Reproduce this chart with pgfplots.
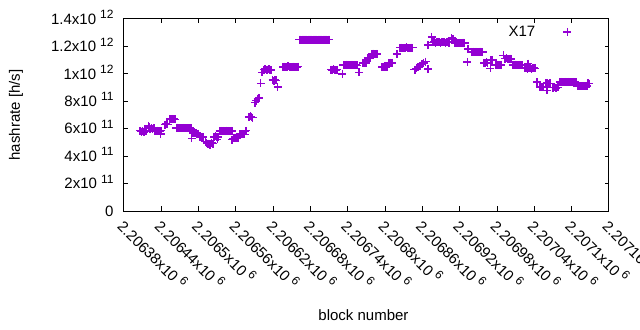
\documentclass[border=0pt]{standalone}
\usepackage{fontspec}
\setmainfont{Liberation Sans}
\usepackage{pgfplots}
\pgfplotsset{compat=1.18}
\definecolor{gpviolet}{RGB}{148,0,211}
\newcommand\ex[1]{\hspace{4bp}\smash{\raisebox{5.5bp}{\fontsize{12bp}{12bp}\selectfont #1}}}
\begin{document}
\begin{tikzpicture}
\useasboundingbox (0,0) rectangle (640bp,330bp);
\begin{axis}[
  at={(124bp,119bp)}, anchor=south west,
  scale only axis, width=485bp, height=192bp,
  xmin=2206380, xmax=2207160, ymin=0, ymax=1.4e12,
  scaled x ticks=false, scaled y ticks=false,
  font=\fontsize{15bp}{18bp}\selectfont,
  axis line style={line width=1bp},
  tick style={line width=1bp, black},
  major tick length=4.5bp, tick align=inside,
  xtick={2206380,2206440,2206500,2206560,2206620,2206680,2206740,2206800,2206860,2206920,2206980,2207040,2207100,2207160},
  xticklabels={2.20638x10\ex{6},2.20644x10\ex{6},2.2065x10\ex{6},2.20656x10\ex{6},2.20662x10\ex{6},2.20668x10\ex{6},2.20674x10\ex{6},2.2068x10\ex{6},2.20686x10\ex{6},2.20692x10\ex{6},2.20698x10\ex{6},2.20704x10\ex{6},2.2071x10\ex{6},2.20716x10\ex{6}},
  ytick={0,2e11,4e11,6e11,8e11,1e12,1.2e12,1.4e12},
  yticklabels={0,2x10\ex{11},4x10\ex{11},6x10\ex{11},8x10\ex{11},1x10\ex{12},1.2x10\ex{12},1.4x10\ex{12}},
  xticklabel shift=4bp,
  xticklabel style={rotate=-45, anchor=north west, font=\fontsize{15bp}{18bp}\selectfont},
  yticklabel style={anchor=east, xshift=-7bp, font=\fontsize{15bp}{18bp}\selectfont},
  every axis x label/.style={at={(rel axis cs:0.5,0)}, anchor=center, yshift=-104bp, xshift=-3bp},
  every axis y label/.style={at={(rel axis cs:0,0.5)}, anchor=center, rotate=90, yshift=108bp},
  xlabel={block number},
  ylabel={hashrate [h/s]},
  legend plot pos=right,
  legend image code/.code={\path[draw=none, fill=none] (0bp,0bp) -- (66bp,0bp); \draw[#1] plot coordinates {(30bp,0bp)};},
  legend style={draw=none, fill=none, at={(rel axis cs:0.9948,0.932)}, anchor=east, font=\fontsize{15bp}{18bp}\selectfont},
]
\addplot[only marks, mark=+, color=gpviolet, mark size=4bp, mark options={line width=1.4bp}] coordinates {
(2206406,5.85e11)(2206408,5.78e11)(2206410,5.80e11)(2206412,5.75e11)(2206414,5.86e11)(2206416,5.80e11)
(2206419,6.20e11)(2206421,6.15e11)
(2206422,6.00e11)(2206424,6.05e11)(2206426,5.98e11)(2206428,6.02e11)
(2206430,5.85e11)(2206432,5.80e11)(2206434,5.86e11)(2206436,5.83e11)(2206438,5.80e11)(2206440,5.85e11)
(2206439,5.60e11)
(2206446,6.30e11)(2206448,6.35e11)(2206450,6.32e11)
(2206454,6.70e11)(2206456,6.68e11)(2206458,6.72e11)(2206460,6.70e11)(2206462,6.68e11)
(2206464,6.05e11)(2206466,6.08e11)(2206468,6.02e11)(2206470,6.05e11)(2206472,6.05e11)(2206474,6.03e11)(2206476,6.06e11)
(2206478,6.05e11)(2206480,6.02e11)(2206482,6.05e11)(2206484,6.04e11)(2206486,6.05e11)(2206488,6.02e11)
(2206489,5.30e11)
(2206491,5.70e11)(2206493,5.72e11)(2206495,5.68e11)(2206497,5.70e11)(2206499,5.65e11)
(2206501,5.42e11)(2206503,5.40e11)(2206505,5.38e11)(2206507,5.40e11)
(2206511,5.05e11)(2206513,4.95e11)(2206515,4.92e11)(2206517,4.85e11)(2206519,4.90e11)(2206521,4.95e11)(2206523,4.90e11)(2206518,4.78e11)
(2206525,5.40e11)(2206527,5.45e11)(2206529,5.38e11)(2206531,5.40e11)(2206530,5.22e11)
(2206534,5.83e11)(2206536,5.85e11)(2206538,5.82e11)(2206540,5.84e11)(2206542,5.83e11)(2206544,5.86e11)
(2206546,5.82e11)(2206548,5.84e11)(2206550,5.83e11)(2206552,5.85e11)(2206554,5.83e11)
(2206554,5.20e11)
(2206556,5.30e11)(2206558,5.35e11)(2206560,5.32e11)(2206562,5.30e11)(2206564,5.35e11)
(2206566,5.60e11)(2206568,5.58e11)(2206570,5.62e11)(2206572,5.60e11)(2206574,5.58e11)
(2206575,5.83e11)(2206577,5.85e11)
(2206581,6.85e11)(2206583,6.90e11)(2206585,6.85e11)(2206587,6.80e11)
(2206591,7.90e11)(2206593,8.05e11)(2206595,8.20e11)(2206597,8.25e11)
(2206600,9.30e11)(2206602,1.01e12)
(2206605,1.030e12)(2206607,1.032e12)(2206609,1.028e12)(2206611,1.030e12)(2206613,1.033e12)(2206615,1.030e12)(2206617,1.028e12)
(2206619,9.55e11)(2206621,9.50e11)(2206623,9.55e11)(2206625,9.52e11)(2206627,9.05e11)
(2206636,1.050e12)(2206638,1.052e12)(2206640,1.048e12)(2206642,1.050e12)(2206644,1.055e12)(2206646,1.050e12)(2206648,1.047e12)
(2206650,1.050e12)(2206652,1.053e12)(2206654,1.050e12)(2206656,1.048e12)(2206658,1.050e12)(2206660,1.052e12)
(2206662,1.25e12)(2206664,1.25e12)(2206666,1.25e12)(2206668,1.25e12)(2206670,1.25e12)(2206672,1.25e12)(2206674,1.25e12)
(2206676,1.25e12)(2206678,1.25e12)(2206680,1.25e12)(2206682,1.25e12)(2206684,1.25e12)(2206686,1.25e12)(2206688,1.25e12)
(2206690,1.25e12)(2206692,1.25e12)(2206694,1.25e12)(2206696,1.25e12)(2206698,1.25e12)(2206700,1.25e12)(2206702,1.25e12)
(2206704,1.25e12)(2206706,1.25e12)(2206708,1.25e12)(2206710,1.25e12)
(2206713,1.030e12)(2206715,1.028e12)(2206717,1.032e12)(2206719,1.030e12)(2206721,1.028e12)(2206723,1.031e12)
(2206731,1.00e12)
(2206733,1.065e12)(2206735,1.063e12)(2206737,1.067e12)(2206739,1.065e12)(2206741,1.065e12)(2206743,1.062e12)
(2206745,1.066e12)(2206747,1.065e12)(2206749,1.064e12)(2206751,1.066e12)(2206753,1.065e12)(2206755,1.063e12)
(2206758,1.01e12)
(2206764,1.080e12)(2206766,1.082e12)(2206768,1.078e12)(2206770,1.080e12)
(2206772,1.115e12)(2206774,1.118e12)(2206776,1.115e12)
(2206779,1.145e12)(2206781,1.147e12)(2206783,1.143e12)(2206785,1.145e12)(2206787,1.146e12)
(2206795,1.050e12)(2206797,1.052e12)(2206799,1.048e12)(2206801,1.050e12)(2206803,1.053e12)
(2206805,1.080e12)(2206807,1.078e12)(2206809,1.082e12)(2206811,1.080e12)
(2206819,1.145e12)
(2206824,1.190e12)(2206826,1.192e12)(2206828,1.188e12)(2206830,1.190e12)(2206832,1.190e12)(2206834,1.193e12)
(2206836,1.190e12)(2206838,1.188e12)(2206840,1.190e12)(2206842,1.191e12)(2206844,1.190e12)
(2206848,1.03e12)
(2206847,1.030e12)(2206850,1.040e12)(2206853,1.050e12)(2206856,1.060e12)(2206859,1.070e12)(2206862,1.080e12)(2206865,1.090e12)
(2206869,1.035e12)(2206869,1.210e12)
(2206875,1.270e12)
(2206877,1.230e12)(2206879,1.232e12)(2206881,1.228e12)(2206883,1.230e12)(2206885,1.233e12)(2206887,1.230e12)(2206889,1.228e12)
(2206891,1.230e12)(2206893,1.232e12)(2206895,1.230e12)(2206897,1.228e12)(2206899,1.231e12)(2206901,1.230e12)(2206903,1.228e12)
(2206907,1.260e12)(2206909,1.255e12)
(2206912,1.225e12)(2206914,1.227e12)(2206916,1.223e12)(2206918,1.225e12)(2206920,1.226e12)(2206922,1.224e12)
(2206924,1.225e12)(2206926,1.227e12)(2206928,1.225e12)
(2206932,1.085e12)
(2206933,1.180e12)
(2206939,1.160e12)(2206941,1.162e12)(2206943,1.158e12)(2206945,1.160e12)(2206947,1.161e12)(2206949,1.159e12)
(2206951,1.160e12)(2206953,1.162e12)(2206955,1.160e12)(2206957,1.158e12)
(2206959,1.080e12)(2206961,1.078e12)(2206963,1.083e12)(2206965,1.080e12)
(2206969,1.040e12)
(2206969,1.100e12)(2206971,1.100e12)(2206973,1.102e12)
(2206977,1.065e12)(2206979,1.063e12)(2206981,1.067e12)(2206983,1.065e12)(2206985,1.064e12)(2206987,1.066e12)
(2206990,1.135e12)
(2206993,1.110e12)(2206995,1.112e12)(2206997,1.108e12)(2206999,1.110e12)(2207001,1.111e12)(2207003,1.109e12)
(2207005,1.065e12)(2207007,1.063e12)(2207009,1.067e12)(2207011,1.065e12)(2207013,1.064e12)(2207015,1.066e12)
(2207017,1.065e12)(2207019,1.063e12)(2207021,1.065e12)
(2207030,1.075e12)
(2207025,1.040e12)(2207027,1.042e12)(2207029,1.038e12)(2207031,1.040e12)(2207033,1.041e12)(2207035,1.039e12)
(2207037,1.040e12)(2207039,1.042e12)(2207041,1.040e12)
(2207044,9.40e11)
(2207049,9.05e11)(2207051,9.02e11)(2207053,9.07e11)(2207055,9.05e11)
(2207059,9.30e11)(2207061,9.32e11)(2207063,9.28e11)(2207065,9.30e11)
(2207060,8.80e11)
(2207070,9.00e11)(2207072,9.02e11)(2207074,8.98e11)(2207076,9.00e11)(2207078,9.01e11)
(2207081,9.40e11)(2207083,9.42e11)(2207085,9.38e11)(2207087,9.40e11)(2207089,9.41e11)(2207091,9.39e11)(2207093,9.40e11)
(2207095,9.42e11)(2207097,9.40e11)(2207099,9.38e11)(2207101,9.40e11)(2207103,9.41e11)(2207105,9.40e11)(2207107,9.39e11)
(2207109,9.10e11)(2207111,9.12e11)(2207113,9.08e11)(2207115,9.10e11)(2207117,9.11e11)(2207119,9.09e11)(2207121,9.10e11)
(2207123,9.12e11)(2207125,9.10e11)
(2207126,9.30e11)(2207128,9.28e11)
};
\addlegendentry{X17}
\end{axis}
\end{tikzpicture}
\end{document}
